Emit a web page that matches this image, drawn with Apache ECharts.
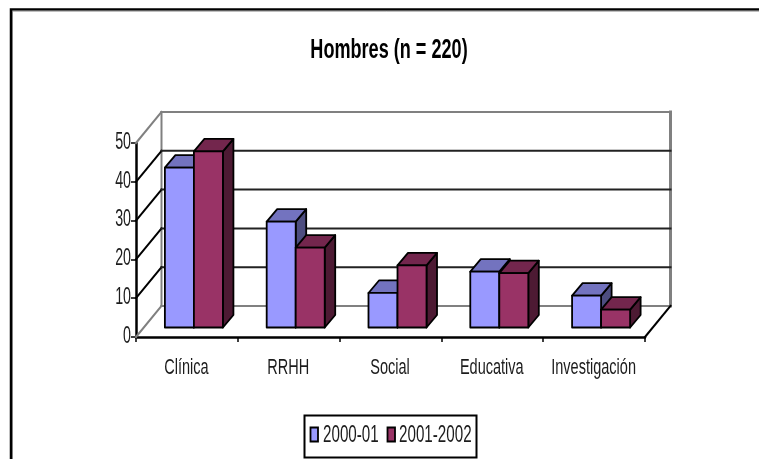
<!DOCTYPE html>
<html><head><meta charset="utf-8">
<style>html,body{margin:0;padding:0;background:#fff}#c{width:759px;height:459px}</style>
<script src="https://cdn.jsdelivr.net/npm/echarts@6/dist/echarts.min.js"></script>
</head><body><div id="c"></div>
<script>
const titleText = 'Hombres (n = 220)';
const categories = ['Clínica', 'RRHH', 'Social', 'Educativa', 'Investigación'];
const seriesNames = ['2000-01', '2001-2002'];
const values2000 = [41.2, 27.3, 8.9, 14.4, 8.2];
const values2001 = [45.4, 20.6, 16, 14, 4.6];
const yTicks = [0, 10, 20, 30, 40, 50];

const FONT = '"Liberation Sans",sans-serif';
const NARROW = 0.66;
const TEXT = '#1c1c1c';
const WALL = [25.5, -31];
const BAR_OFF = [7, -9.5];
const BAR_DEPTH = [10.5, -12.5];
const PALETTE = [
  {front:'#9999FF', top:'#7373BF', side:'#4D4D80'},
  {front:'#993366', top:'#73264D', side:'#4D1A33'}
];

function seg(a, b, color, width){
  return {type:'line', shape:{x1:a[0],y1:a[1],x2:b[0],y2:b[1]}, style:{stroke:color,lineWidth:width,lineCap:'square'}};
}
function label(text, x, y, size, align, weight, sx){
  return {type:'text', x:x, y:y, scaleX:sx||NARROW, scaleY:1, silent:true,
    style:{text:text, fill:TEXT, font:(weight||'normal')+' '+size+'px '+FONT, textAlign:align, textVerticalAlign:'middle'}};
}
function renderFrame(params, api){
  const cs = params.coordSys, t = api.value(1), y = api.coord([0,t])[1];
  const x0 = cs.x, x1 = cs.x + cs.width;
  const edge = (t === yTicks[0] || t === yTicks[yTicks.length-1]);
  const kids = [
    seg([x0,y],[x0+WALL[0],y+WALL[1]], edge ? '#808080' : '#000', 2),
    seg([x0+WALL[0],y+WALL[1]],[x1+WALL[0],y+WALL[1]], edge ? '#808080' : '#222', 2),
    label(String(t), x0-5, y-0.5, 23, 'right', 'normal', 0.62)
  ];
  if (t === yTicks[0]) {
    const top = api.coord([0,yTicks[yTicks.length-1]])[1] + WALL[1];
    kids.push(seg([x0+WALL[0],y+WALL[1]],[x0+WALL[0],top],'#808080',2));
    kids.push(seg([x1+WALL[0],y+WALL[1]],[x1+WALL[0],top],'#808080',3));
    kids.push(seg([x1,y],[x1+WALL[0],y+WALL[1]],'#000',2));
  }
  return {type:'group', children:kids};
}
function renderBar(params, api){
  const idx = params.seriesIndex - 1, c = PALETTE[idx];
  const p = api.coord([api.value(0), api.value(1)]);
  const base = api.coord([api.value(0), 0]);
  const w = api.size([1,0])[0] * 0.285;
  const l = p[0] + BAR_OFF[0] + (idx === 0 ? -w : 0), r = l + w;
  const b = base[1] + BAR_OFF[1], t = p[1] + BAR_OFF[1];
  const dx = BAR_DEPTH[0], dy = BAR_DEPTH[1];
  const st = f => ({fill:f, stroke:'#000', lineWidth:1.8, lineJoin:'round'});
  return {type:'group', children:[
    {type:'polygon', shape:{points:[[r,t],[r+dx,t+dy],[r+dx,b+dy],[r,b]]}, style:st(c.side)},
    {type:'polygon', shape:{points:[[l,t],[l+dx,t+dy],[r+dx,t+dy],[r,t]]}, style:st(c.top)},
    {type:'rect', shape:{x:l,y:t,width:w,height:b-t}, style:st(c.front)}
  ]};
}
function renderCategoryLabel(params, api){
  const p = api.coord([api.value(0), 0]);
  return label(categories[api.value(0)], p[0]-0.5, p[1]+30.5, 22, 'center');
}
const pairs = v => v.map((d,i)=>[i,d]);

const legendGraphic = [
  {type:'rect', shape:{x:304.5,y:415.5,width:172,height:42}, style:{fill:'#fff',stroke:'#000',lineWidth:2}},
  {type:'rect', shape:{x:310.5,y:427.5,width:7.5,height:14}, style:{fill:PALETTE[0].front,stroke:'#000',lineWidth:1.8}},
  {type:'text', x:323, y:436, scaleX:0.66, style:{text:seriesNames[0],fill:TEXT,font:'23px '+FONT,textAlign:'left',textVerticalAlign:'middle'}},
  {type:'rect', shape:{x:387.5,y:427.5,width:7.5,height:14}, style:{fill:PALETTE[1].front,stroke:'#000',lineWidth:1.8}},
  {type:'text', x:399, y:436, scaleX:0.66, style:{text:seriesNames[1],fill:TEXT,font:'23px '+FONT,textAlign:'left',textVerticalAlign:'middle'}}
];

const chart = echarts.init(document.getElementById('c'), null, {renderer:'canvas'});
chart.setOption({
  animation:false,
  backgroundColor:'#fff',
  grid:{left:136, top:143, width:509, height:194},
  xAxis:{type:'category', data:categories,
    axisLine:{lineStyle:{color:'#000',width:2.5}},
    axisTick:{show:true, alignWithLabel:false, length:5, lineStyle:{color:'#000',width:1.5}},
    axisLabel:{show:false}},
  yAxis:{type:'value', min:0, max:50, interval:10,
    axisLine:{show:true,lineStyle:{color:'#000',width:2.5}},
    axisTick:{show:true,length:5,lineStyle:{color:'#000',width:1.5}},
    splitLine:{show:false},
    axisLabel:{show:false}},
  graphic:[
    {type:'polyline', shape:{points:[[11,470],[11,9.5],[770,9.5]]}, style:{fill:'none',stroke:'#000',lineWidth:2.5}, z:-1},
    {type:'polyline', shape:{points:[[12.5,470],[12.5,11],[770,11]]}, style:{fill:'none',stroke:'#808080',lineWidth:1}, z:-1},
    {type:'text', x:389, y:51, scaleX:0.67, z:5, style:{text:titleText,fill:'#000',font:'bold 27px '+FONT,textAlign:'center',textVerticalAlign:'middle'}}
  ].concat(legendGraphic.map(g=>Object.assign({z:5},g))),
  series:[
    {type:'custom', name:'frame', renderItem:renderFrame, data:pairs(yTicks), encode:{x:0,y:1}, silent:true, z:1},
    {type:'custom', name:seriesNames[0], renderItem:renderBar, data:pairs(values2000), encode:{x:0,y:1}, z:2},
    {type:'custom', name:seriesNames[1], renderItem:renderBar, data:pairs(values2001), encode:{x:0,y:1}, z:3},
    {type:'custom', name:'categoryLabels', renderItem:renderCategoryLabel, data:pairs(categories.map(()=>0)), encode:{x:0,y:1}, silent:true, z:4}
  ]
});
</script></body></html>
